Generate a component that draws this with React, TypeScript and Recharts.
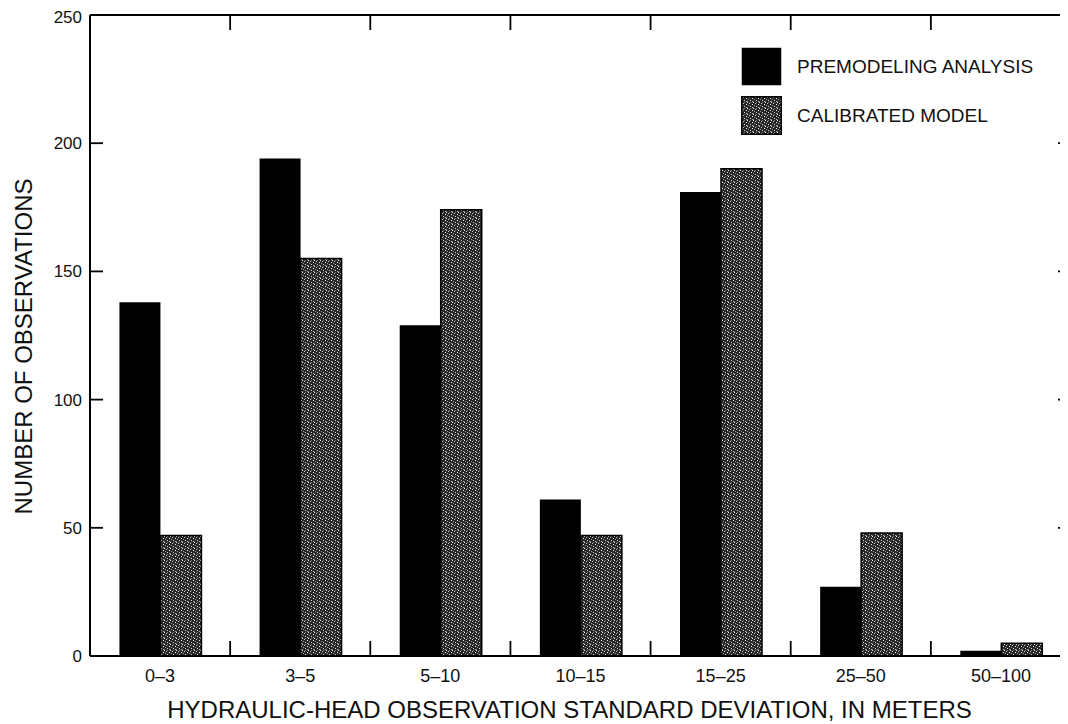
import React from "react";
import { ComposedChart, Bar, XAxis, YAxis, Legend } from "recharts";

const categories = ["0–3", "3–5", "5–10", "10–15", "15–25", "25–50", "50–100"];
const premodeling = [138, 194, 129, 61, 181, 27, 2];
const calibrated = [47, 155, 174, 47, 190, 48, 5];
const yTicks = [0, 50, 100, 150, 200, 250];

const seriesNames = {
  premodeling: "PREMODELING ANALYSIS",
  calibrated: "CALIBRATED MODEL",
};

const data = categories.map((range, i) => ({
  range,
  premodeling: premodeling[i],
  calibrated: calibrated[i],
}));

const FONT = "'Liberation Sans', Arial, Helvetica, sans-serif";
const STIPPLE = "url(#stipple)";
const fills: Record<string, string> = { premodeling: "#000", calibrated: STIPPLE };
const frameLine = { stroke: "#000", strokeWidth: 2 };
const tickStroke = { stroke: "#000", strokeWidth: 1.8 };

const MARGIN_TOP = 6;
const TOP_AXIS_H = 1;
const PLOT_TOP = MARGIN_TOP + TOP_AXIS_H;

// category label plus inward ticks (bottom and top edge) at the class boundary to its right
const BottomTick = (props: any) => {
  const { x, y, payload, index } = props;
  const bx = x + (payload.offset ?? 0);
  const inner = index < categories.length - 1;
  return (
    <g>
      {inner && <line x1={bx} x2={bx} y1={y} y2={y - 15} stroke="#000" strokeWidth={1.8} />}
      {inner && <line x1={bx} x2={bx} y1={PLOT_TOP} y2={PLOT_TOP + 15} stroke="#000" strokeWidth={1.8} />}
      <text x={x} y={y + 26} textAnchor="middle" fontSize={18} fill="#111" fontFamily={FONT}>
        {payload.value}
      </text>
    </g>
  );
};

const LeftTick = (props: any) => {
  const { x, y, payload } = props;
  return (
    <text x={x} y={y} dy="0.35em" textAnchor="end" fontSize={17} fill="#111" fontFamily={FONT}>
      {payload.value}
    </text>
  );
};

const NoLabel = () => <g />;

const LegendBox = () => (
  <div style={{ fontFamily: FONT, fontSize: 19, color: "#111" }}>
    {Object.keys(seriesNames).map((key) => (
      <div key={key} style={{ display: "flex", alignItems: "center", height: 39, marginBottom: 10 }}>
        <svg width={41} height={39} style={{ marginRight: 15 }}>
          <rect x={0.75} y={0.75} width={39.5} height={37.5} fill={fills[key]}
            stroke="#000" strokeWidth={key === "calibrated" ? 1.5 : 0} />
        </svg>
        <span>{seriesNames[key as keyof typeof seriesNames]}</span>
      </div>
    ))}
  </div>
);

export default function App() {
  return (
    <div style={{ width: 1060, height: 716, overflow: "hidden", position: "relative", background: "#fff" }}>
      <ComposedChart
        width={1080}
        height={716}
        data={data}
        margin={{ top: MARGIN_TOP, right: 0, left: 0, bottom: 0 }}
        barCategoryGap="21%"
        barGap={0}
        style={{ fontFamily: FONT }}
      >
        <defs>
          <pattern id="stipple" width="6" height="6" patternUnits="userSpaceOnUse">
            <rect width="6" height="6" fill="#262626" />
            <rect x="0" y="0" width="1" height="1" fill="#e8e8e8" />
            <rect x="3" y="0" width="1" height="1" fill="#7a7a7a" />
            <rect x="2" y="1" width="1" height="1" fill="#c8c8c8" />
            <rect x="5" y="2" width="1" height="1" fill="#f4f4f4" />
            <rect x="1" y="3" width="1" height="1" fill="#9a9a9a" />
            <rect x="3" y="4" width="1" height="1" fill="#d6d6d6" />
            <rect x="0" y="5" width="1" height="1" fill="#6a6a6a" />
            <rect x="5" y="5" width="1" height="1" fill="#b0b0b0" />
          </pattern>
        </defs>
        <XAxis
          dataKey="range"
          height={68}
          interval={0}
          tickLine={false}
          tickSize={0}
          tickMargin={0}
          tick={<BottomTick />}
          axisLine={frameLine}
          label={{
            content: ({ viewBox }: any) => (
              <text x={viewBox.x + viewBox.width / 2 - 11} y={viewBox.y + 62} textAnchor="middle"
                fontSize={24} fill="#111" fontFamily={FONT}>
                HYDRAULIC-HEAD OBSERVATION STANDARD DEVIATION, IN METERS
              </text>
            ),
          }}
        />
        <XAxis
          xAxisId="top"
          dataKey="range"
          orientation="top"
          height={TOP_AXIS_H}
          tickLine={false}
          tick={<NoLabel />}
          axisLine={frameLine}
        />
        <YAxis
          domain={[0, 250]}
          ticks={yTicks}
          width={82}
          tickSize={-13}
          tickMargin={21}
          tickLine={tickStroke}
          tick={<LeftTick />}
          axisLine={frameLine}
          label={{
            content: ({ viewBox }: any) => {
              const cx = viewBox.x + 15.5;
              const cy = viewBox.y + viewBox.height / 2 + 11;
              return (
                <text x={cx} y={cy} transform={`rotate(-90, ${cx}, ${cy})`} textAnchor="middle"
                  dominantBaseline="central" fontSize={24} fill="#111" fontFamily={FONT}>
                  NUMBER OF OBSERVATIONS
                </text>
              );
            },
          }}
        />
        <YAxis
          yAxisId="r"
          orientation="right"
          domain={[0, 250]}
          ticks={yTicks}
          width={17}
          tickSize={-13}
          tickLine={tickStroke}
          tick={<NoLabel />}
          axisLine={frameLine}
        />
        <Legend
          layout="vertical"
          align="center"
          verticalAlign="middle"
          wrapperStyle={{ top: 39, left: 733, width: 320 }}
          content={<LegendBox />}
        />
        <Bar dataKey="premodeling" name={seriesNames.premodeling} fill="#000" isAnimationActive={false} />
        <Bar dataKey="calibrated" name={seriesNames.calibrated} fill={STIPPLE} stroke="#000"
          strokeWidth={1.5} isAnimationActive={false} />
        {/* invisible series so the frame axes (top and right) get drawn */}
        <Bar xAxisId="top" yAxisId="r" dataKey="calibrated" fill="none" stroke="none"
          legendType="none" isAnimationActive={false} />
      </ComposedChart>
    </div>
  );
}
